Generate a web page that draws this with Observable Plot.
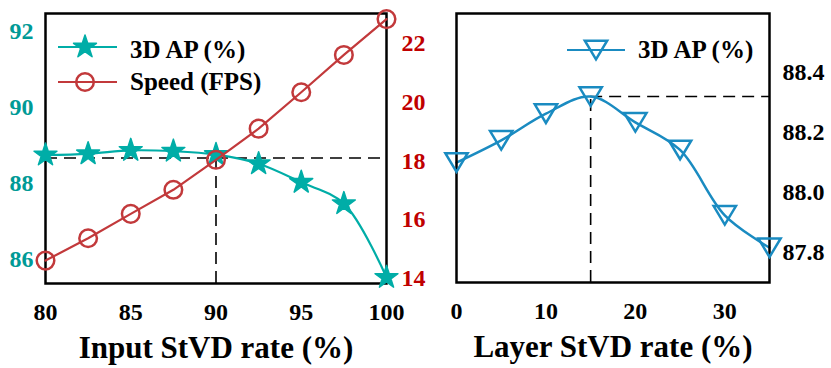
<!DOCTYPE html>
<html>
<head>
<meta charset="utf-8">
<script src="https://cdn.jsdelivr.net/npm/d3@7"></script>
<script src="https://cdn.jsdelivr.net/npm/@observablehq/plot@0.6"></script>
<style>
  html, body { margin: 0; padding: 0; background: white; }
  #chart { position: relative; width: 831px; height: 368px; background: white; }
  #chart > svg { position: absolute; left: 0; top: 0; }
</style>
</head>
<body>
<div id="chart"></div>
<script>
// ---------- data ----------
const inputRate = [80, 82.5, 85, 87.5, 90, 92.5, 95, 97.5, 100];
const inputAP = [88.75, 88.78, 88.87, 88.85, 88.76, 88.52, 88.03, 87.47, 85.53];
const inputFPS = [14.61, 15.37, 16.20, 17.02, 18.04, 19.10, 20.34, 21.61, 22.83];
const inputTicksX = [80, 85, 90, 95, 100];
const apTicks = [86, 88, 90, 92];
const fpsTicks = [14, 16, 18, 20, 22];
const inputRefRate = [90];
const inputRefAP = [88.67];

const layerRate = [0, 5, 10, 15, 20, 25, 30, 35];
const layerAP = [88.10, 88.174, 88.263, 88.32, 88.234, 88.142, 87.924, 87.816];
const layerTicksX = [0, 10, 20, 30];
const layerTicksY = [87.8, 88.0, 88.2, 88.4];
const layerRefRate = [15];
const layerRefAP = [88.32];

const legendLeft = ["3D AP (%)", "Speed (FPS)"];
const legendRight = ["3D AP (%)"];
const xLabels = ["Input StVD rate (%)", "Layer StVD rate (%)"];

// ---------- styles ----------
const TEAL = "#00ADA7", TEAL_TXT = "#009A96", RED = "#C2393B", RED_TXT = "#C00000", BLUE = "#1A8BC1";
const FONT = "'Liberation Serif', 'Times New Roman', serif";
const W = 831, H = 368;
const baseStyle = {background: "transparent", overflow: "visible", fontFamily: FONT, fontWeight: "bold", fontSize: "24px"};

const apDomain = [85.37, 92.47];
const fpsDomain = [13.83, 23.02];
const layerDomain = [87.7, 88.597];

const inputData = inputRate.map((x, i) => ({x, ap: inputAP[i], fps: inputFPS[i]}));
const layerData = layerRate.map((x, i) => ({x, ap: layerAP[i]}));

const triDown = {
  draw(ctx, size) {
    const r = Math.sqrt(size / Math.PI);
    ctx.moveTo(-1.2 * r, -r);
    ctx.lineTo(1.2 * r, -r);
    ctx.lineTo(0, r);
    ctx.closePath();
  }
};

const leftMargins = {width: W, height: H, marginLeft: 45, marginRight: W - 386, marginTop: 13, marginBottom: H - 283};
const rightMargins = {width: W, height: H, marginLeft: 456, marginRight: W - 769, marginTop: 13, marginBottom: H - 282};

// Left panel, teal axis
const leftAP = Plot.plot({
  ...leftMargins,
  style: baseStyle,
  x: {domain: [80, 100]},
  y: {domain: apDomain},
  marks: [
    Plot.ruleY(inputRefAP, {x1: 80, x2: 100, stroke: "black", strokeWidth: 1.6, strokeDasharray: "12,7"}),
    Plot.ruleX(inputRefRate, {y1: apDomain[0], y2: inputRefAP[0], stroke: "black", strokeWidth: 1.6, strokeDasharray: "12,7"}),
    Plot.line(inputData, {x: "x", y: "ap", stroke: TEAL, strokeWidth: 2.2, curve: "catmull-rom"}),
    Plot.frame({stroke: "black", strokeWidth: 2.5}),
    Plot.dot(inputData, {x: "x", y: "ap", symbol: "star", r: 7.2, fill: TEAL, stroke: TEAL, strokeWidth: 1.5, strokeLinejoin: "round"}),
    Plot.axisY({ticks: apTicks, tickSize: 0, tickPadding: 12, fill: TEAL_TXT, fontSize: 24, fontWeight: "bold", label: null}),
    Plot.axisX({ticks: inputTicksX, tickSize: 0, tickPadding: 19, fill: "black", fontSize: 24, fontWeight: "bold", label: null}),
    Plot.text([xLabels[0]], {frameAnchor: "bottom", lineAnchor: "middle", dy: 65, fontSize: 31, fontWeight: "bold", fill: "black"})
  ]
});

// Left panel, red axis
const leftFPS = Plot.plot({
  ...leftMargins,
  style: baseStyle,
  x: {domain: [80, 100], axis: null},
  y: {domain: fpsDomain, axis: null},
  marks: [
    Plot.line(inputData, {x: "x", y: "fps", stroke: RED, strokeWidth: 2.2}),
    Plot.dot(inputData, {x: "x", y: "fps", symbol: "circle", r: 8.8, fill: "none", stroke: RED, strokeWidth: 2.5}),
    Plot.axisY({anchor: "right", ticks: fpsTicks, tickSize: 0, tickPadding: 15, fill: RED_TXT, fontSize: 24, fontWeight: "bold", label: null})
  ]
});

// Right panel
const right = Plot.plot({
  ...rightMargins,
  style: baseStyle,
  x: {domain: [0, 35]},
  y: {domain: layerDomain},
  marks: [
    Plot.ruleY(layerRefAP, {x1: layerRefRate[0], x2: 35, stroke: "black", strokeWidth: 1.6, strokeDasharray: "12,7"}),
    Plot.ruleX(layerRefRate, {y1: layerDomain[0], y2: layerRefAP[0], stroke: "black", strokeWidth: 1.6, strokeDasharray: "12,7"}),
    Plot.line(layerData, {x: "x", y: "ap", stroke: BLUE, strokeWidth: 2.5, curve: "catmull-rom"}),
    Plot.frame({stroke: "black", strokeWidth: 2.5}),
    Plot.dot(layerData, {x: "x", y: "ap", symbol: triDown, r: 9.3, fill: "none", stroke: BLUE, strokeWidth: 2.5}),
    Plot.axisY({anchor: "right", ticks: layerTicksY, tickFormat: ".1f", tickSize: 0, tickPadding: 13, fill: "black", fontSize: 24, fontWeight: "bold", label: null}),
    Plot.axisX({ticks: layerTicksX, tickSize: 0, tickPadding: 19, fill: "black", fontSize: 24, fontWeight: "bold", label: null}),
    Plot.text([xLabels[1]], {frameAnchor: "bottom", lineAnchor: "middle", dy: 65, fontSize: 31, fontWeight: "bold", fill: "black"})
  ]
});

const chart = document.getElementById("chart");
chart.append(leftAP, leftFPS, right);

// Legends (overlay)
const leg = d3.create("svg").attr("width", W).attr("height", H)
  .style("font-family", FONT).style("font-weight", "bold").style("font-size", "25px").style("overflow", "visible");

function legendItem(g, x0, x1, xm, y, color, sym, text, ty) {
  g.append("line").attr("x1", x0).attr("x2", x1).attr("y1", y).attr("y2", y).attr("stroke", color).attr("stroke-width", 2.2);
  sym(g.append("g").attr("transform", `translate(${xm},${y})`));
  g.append("text").attr("x", x1 + 13).attr("y", ty).attr("fill", "black").text(text);
}
legendItem(leg, 58, 117, 85, 47, TEAL,
  s => s.append("path").attr("d", d3.symbol(d3.symbolStar, Math.PI * 7.2 * 7.2)()).attr("fill", TEAL)
        .attr("stroke", TEAL).attr("stroke-width", 1.5).attr("stroke-linejoin", "round"),
  legendLeft[0], 58);
legendItem(leg, 58, 117, 85, 82, RED,
  s => s.append("circle").attr("r", 8.8).attr("fill", "none").attr("stroke", RED).attr("stroke-width", 2.5),
  legendLeft[1], 90);
legendItem(leg, 567, 625, 596, 50, BLUE,
  s => s.append("path").attr("d", d3.symbol(triDown, Math.PI * 9.3 * 9.3)()).attr("fill", "none").attr("stroke", BLUE).attr("stroke-width", 2.5),
  legendRight[0], 58);
chart.append(leg.node());
</script>
</body>
</html>
